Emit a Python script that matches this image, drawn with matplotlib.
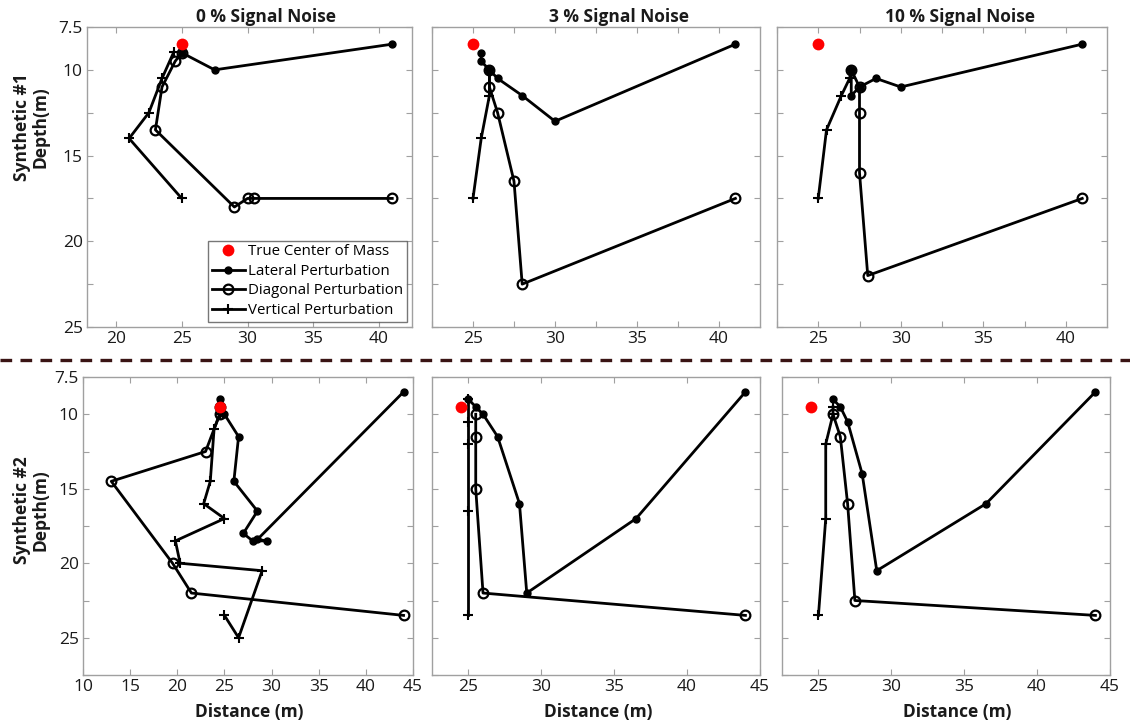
import matplotlib
matplotlib.use('Agg')
import matplotlib.pyplot as plt
from matplotlib.lines import Line2D

plt.rcParams['font.family'] = ['Open Sans', 'DejaVu Sans']

W, H = 1130, 727

# --- Synthetic #1, 0 % noise
s1_n0_true = (25, 8.5)
s1_n0_lat_x = [41, 27.5, 25]
s1_n0_lat_d = [8.5, 10, 9]
s1_n0_diag_x = [41, 30.5, 30, 29, 23, 23.5, 24.5, 25]
s1_n0_diag_d = [17.5, 17.5, 17.5, 18, 13.5, 11, 9.5, 9]
s1_n0_vert_x = [25, 21, 22.5, 23.5, 24.4]
s1_n0_vert_d = [17.5, 14, 12.5, 10.5, 8.95]

# --- Synthetic #1, 3 % noise
s1_n3_true = (25, 8.5)
s1_n3_lat_x = [41, 30, 28, 26.5, 26, 25.5, 25.5]
s1_n3_lat_d = [8.5, 13, 11.5, 10.5, 10, 9.5, 9]
s1_n3_diag_x = [41, 28, 27.5, 26.5, 26, 26]
s1_n3_diag_d = [17.5, 22.5, 16.5, 12.5, 11, 10]
s1_n3_vert_x = [25, 25.5, 26, 26]
s1_n3_vert_d = [17.5, 14, 11.5, 10]

# --- Synthetic #1, 10 % noise
s1_n10_true = (25, 8.5)
s1_n10_lat_x = [41, 30, 28.5, 27.5, 27, 27]
s1_n10_lat_d = [8.5, 11, 10.5, 11, 11.5, 10]
s1_n10_diag_x = [41, 28, 27.5, 27.5, 27.5, 27]
s1_n10_diag_d = [17.5, 22, 16, 12.5, 11, 10]
s1_n10_vert_x = [25, 25.5, 26.4, 26.9, 27]
s1_n10_vert_d = [17.5, 13.5, 11.5, 10.5, 10]

# --- Synthetic #2, 0 % noise
s2_n0_true = (24.5, 9.5)
s2_n0_lat_x = [44, 28.5, 29.5, 28, 27, 28.5, 26, 26.5, 25, 24.5]
s2_n0_lat_d = [8.5, 18.4, 18.5, 18.5, 18, 16.5, 14.5, 11.5, 10, 9]
s2_n0_diag_x = [44, 21.5, 19.5, 13, 23, 24.5, 24.5]
s2_n0_diag_d = [23.5, 22, 20, 14.5, 12.5, 10, 9.5]
s2_n0_vert_x = [25, 26.5, 29, 20.3, 19.8, 25, 22.8, 23.5, 23.9, 24.5]
s2_n0_vert_d = [23.5, 25, 20.5, 20, 18.5, 17, 16, 14.5, 11, 10]

# --- Synthetic #2, 3 % noise
s2_n3_true = (24.5, 9.5)
s2_n3_lat_x = [44, 36.5, 29, 28.5, 27, 26, 25.5, 25]
s2_n3_lat_d = [8.5, 17, 22, 16, 11.5, 10, 9.5, 9]
s2_n3_diag_x = [44, 26, 25.5, 25.5, 25.5]
s2_n3_diag_d = [23.5, 22, 15, 11.5, 10]
s2_n3_vert_x = [25, 25, 25, 25, 25]
s2_n3_vert_d = [23.5, 16.5, 12, 10.5, 9]

# --- Synthetic #2, 10 % noise
s2_n10_true = (24.5, 9.5)
s2_n10_lat_x = [44, 36.5, 29, 28, 27, 26.5, 26]
s2_n10_lat_d = [8.5, 16, 20.5, 14, 10.5, 9.5, 9]
s2_n10_diag_x = [44, 27.5, 27, 26.5, 26]
s2_n10_diag_d = [23.5, 22.5, 16, 11.5, 10]
s2_n10_vert_x = [25, 25.5, 25.5, 26, 26]
s2_n10_vert_d = [23.5, 17, 12, 10, 9.5]

titles = ['0 % Signal Noise', '3 % Signal Noise', '10 % Signal Noise']
row_labels = ['Synthetic #1\nDepth(m)', 'Synthetic #2\nDepth(m)']
legend_labels = ['True Center of Mass', 'Lateral Perturbation',
                 'Diagonal Perturbation', 'Vertical Perturbation']

FRAME = '#a0a0a0'


def px_axes(fig, x0, y0, x1, y1):
    """Add axes from pixel box (top-left origin)."""
    return fig.add_axes([x0 / W, 1 - y1 / H, (x1 - x0) / W, (y1 - y0) / H])


def draw_panel(ax, true_pt, lat, diag, vert):
    l1, = ax.plot(lat[0], lat[1], '-o', color='k', lw=2.0, ms=5,
                  mfc='k', mec='k')
    l2, = ax.plot(diag[0], diag[1], '-o', color='k', lw=2.0, ms=7,
                  mfc='none', mec='k', mew=1.6)
    l3, = ax.plot(vert[0], vert[1], '-+', color='k', lw=2.0, ms=6.5,
                  mew=1.5)
    t, = ax.plot([true_pt[0]], [true_pt[1]], 'o', color='#ff0000',
                 ms=8.5, mec='none', zorder=5)
    for s in ax.spines.values():
        s.set_color(FRAME)
        s.set_linewidth(1.0)
    ax.tick_params(direction='in', top=True, right=True, length=4,
                   color=FRAME, labelsize=12.5, labelcolor='#1a1a1a', pad=3)
    return [t, l1, l2, l3]


def main():
    fig = plt.figure(figsize=(W / 100, H / 100), dpi=100)

    top_boxes = [(87, 27, 412, 327), (432, 27, 760, 327), (777, 27, 1107, 327)]
    bot_boxes = [(83, 377, 413, 675), (432, 377, 760, 675), (782, 377, 1110, 675)]

    top_data = [
        (s1_n0_true, (s1_n0_lat_x, s1_n0_lat_d), (s1_n0_diag_x, s1_n0_diag_d), (s1_n0_vert_x, s1_n0_vert_d)),
        (s1_n3_true, (s1_n3_lat_x, s1_n3_lat_d), (s1_n3_diag_x, s1_n3_diag_d), (s1_n3_vert_x, s1_n3_vert_d)),
        (s1_n10_true, (s1_n10_lat_x, s1_n10_lat_d), (s1_n10_diag_x, s1_n10_diag_d), (s1_n10_vert_x, s1_n10_vert_d)),
    ]
    bot_data = [
        (s2_n0_true, (s2_n0_lat_x, s2_n0_lat_d), (s2_n0_diag_x, s2_n0_diag_d), (s2_n0_vert_x, s2_n0_vert_d)),
        (s2_n3_true, (s2_n3_lat_x, s2_n3_lat_d), (s2_n3_diag_x, s2_n3_diag_d), (s2_n3_vert_x, s2_n3_vert_d)),
        (s2_n10_true, (s2_n10_lat_x, s2_n10_lat_d), (s2_n10_diag_x, s2_n10_diag_d), (s2_n10_vert_x, s2_n10_vert_d)),
    ]

    handles = None
    for i in range(3):
        ax = px_axes(fig, *top_boxes[i])
        h = draw_panel(ax, *top_data[i])
        if i == 0:
            handles = h
            ax.set_xlim(17.8, 42.5)
            ax.set_xticks([20, 25, 30, 35, 40])
            ax.set_yticks([7.5, 10, 12.5, 15, 17.5, 20, 22.5, 25])
            ax.set_yticklabels(['7.5', '10', '', '15', '', '20', '', '25'])
        else:
            ax.set_xlim(22.5, 42.5)
            ax.set_xticks([22.5, 25, 27.5, 30, 32.5, 35, 37.5, 40])
            ax.set_xticklabels(['', '25', '', '30', '', '35', '', '40'])
            ax.set_yticks([7.5, 10, 12.5, 15, 17.5, 20, 22.5, 25])
            ax.set_yticklabels([])
        ax.set_ylim(25, 7.5)

        if i == 0:
            leg = ax.legend(handles, legend_labels, loc='lower right',
                            fontsize=10.8, frameon=True, fancybox=False,
                            handlelength=2.2, handletextpad=0.2,
                            borderpad=0.25, labelspacing=0.3,
                            borderaxespad=0.35)
            leg.get_frame().set_edgecolor('#555555')
            leg.get_frame().set_linewidth(1.0)

    for i in range(3):
        ax = px_axes(fig, *bot_boxes[i])
        draw_panel(ax, *bot_data[i])
        if i == 0:
            ax.set_xlim(10, 45)
            ax.set_xticks([10, 15, 20, 25, 30, 35, 40, 45])
            ax.set_yticks([7.5, 10, 12.5, 15, 17.5, 20, 22.5, 25, 27.5])
            ax.set_yticklabels(['7.5', '10', '', '15', '', '20', '', '25', ''])
        else:
            ax.set_xlim(22.5, 45)
            ax.set_xticks([25, 30, 35, 40, 45])
            ax.set_yticks([7.5, 10, 12.5, 15, 17.5, 20, 22.5, 25, 27.5])
            ax.set_yticklabels([])
        ax.set_ylim(27.5, 7.5)

    # titles, axis labels
    for cx, t in zip([266, 619, 960], titles):
        fig.text(cx / W, 1 - 17 / H, t, ha='center', va='center',
                 fontsize=12.5, fontweight='bold', color='#1a1a1a')
    for cx in [249, 598, 957]:
        fig.text(cx / W, 1 - 712 / H, 'Distance (m)', ha='center', va='center',
                 fontsize=12.5, fontweight='bold', color='#1a1a1a')
    for cy, t in zip([127, 510], row_labels):
        fig.text(31 / W, 1 - cy / H, t, ha='center', va='center', rotation=90,
                 multialignment='center', fontsize=12.5, fontweight='bold',
                 color='#1a1a1a', linespacing=1.05)

    # dashed separator between the two rows
    fig.add_artist(Line2D([0, 1], [1 - 360 / H, 1 - 360 / H],
                          transform=fig.transFigure, color='#3a1414',
                          lw=2.4, dashes=(3.5, 2.5)))

    fig.savefig('out.png', dpi=100)


if __name__ == "__main__":
    main()
